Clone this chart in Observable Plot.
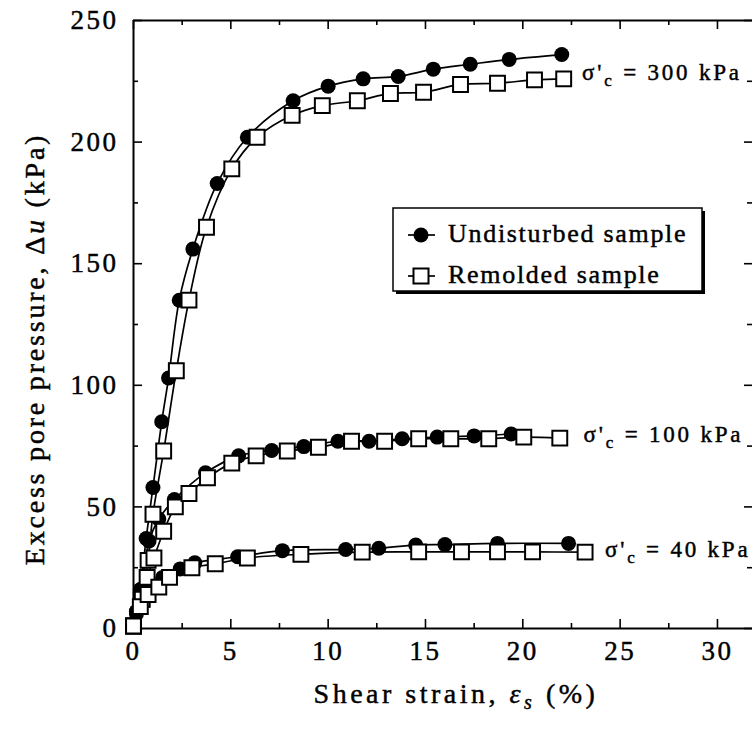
<!DOCTYPE html>
<html>
<head>
<meta charset="utf-8">
<script src="https://cdn.jsdelivr.net/npm/d3@7"></script>
<script src="https://cdn.jsdelivr.net/npm/@observablehq/plot@0.6"></script>
<style>
  body { margin: 0; background: #fff; }
  svg { display: block; }
  #chart svg text, #chart svg tspan { font-family: "Liberation Serif", "Times New Roman", serif !important; }
</style>
</head>
<body>
<div id="chart"></div>
<script>
// Excess pore pressure vs. shear strain, undisturbed vs. remolded samples
// at three consolidation pressures.

// σ'c = 300 kPa
const undisturbed300Strain = [0.15, 0.35, 0.65, 1.0, 1.45, 1.8, 2.35, 3.05, 4.3, 5.85, 8.2, 10.0, 11.8, 13.6, 15.4, 17.3, 19.3, 22.0];
const undisturbed300Du     = [7, 16, 37, 58, 85, 103, 135, 156, 183, 202, 217, 223, 226, 227, 230, 232, 234, 236];
const remolded300Strain    = [0, 0.4, 0.75, 1.0, 1.55, 2.2, 2.85, 3.75, 5.05, 6.35, 8.15, 9.7, 11.5, 13.2, 14.9, 16.8, 18.7, 20.6, 22.1];
const remolded300Du        = [1, 12, 28, 47, 73, 106, 135, 165, 189, 202, 211, 215, 217, 220, 220.5, 223.7, 224.2, 225.6, 226];

// σ'c = 100 kPa
const undisturbed100Strain = [0.15, 0.4, 0.8, 1.3, 2.1, 3.7, 5.4, 7.1, 8.75, 10.5, 12.1, 13.8, 15.6, 17.5, 19.4];
const undisturbed100Du     = [7, 16, 36, 45, 53, 64, 71, 73.2, 74.8, 77, 77, 78, 78.7, 79.2, 80];
const remolded100Strain    = [0, 0.45, 0.7, 1.05, 1.55, 2.15, 2.85, 3.8, 5.05, 6.3, 7.9, 9.5, 11.2, 12.9, 14.65, 16.3, 18.25, 20.05, 21.9];
const remolded100Du        = [1, 12, 21, 29, 40, 50, 55.5, 62, 68, 71, 73, 74.5, 77, 77, 78, 78, 78, 78.7, 78.3];

// σ'c = 40 kPa
const undisturbed40Strain  = [0.15, 0.4, 0.9, 1.5, 2.4, 3.15, 5.35, 7.65, 10.9, 12.6, 14.5, 16.0, 18.7, 22.35];
const undisturbed40Du      = [6, 14, 18, 21, 24.5, 27, 29.5, 32, 32.5, 33, 34.3, 34.5, 35, 35];
const remolded40Strain     = [0, 0.35, 0.75, 1.3, 1.85, 3.0, 4.2, 5.85, 8.6, 11.75, 14.65, 16.85, 18.7, 20.5, 23.2];
const remolded40Du         = [1, 9, 14, 17, 21, 25, 26.6, 29, 30.5, 31.4, 31.5, 31.5, 31.5, 31.5, 31.4];

// Axis ticks
const xMajorTicks = [0, 5, 10, 15, 20, 25, 30];
const xMinorTicks = [2.5, 7.5, 12.5, 17.5, 22.5, 27.5];
const yMajorTicks = [0, 50, 100, 150, 200, 250];
const yMinorTicks = [25, 75, 125, 175, 225];

// Curve labels (pressure, anchor strain and Δu of the label)
const curveLabelPressures = ["300", "100", "40"];
const curveLabelStrain    = [23.07, 23.15, 24.25];
const curveLabelDu        = [228.5, 79.7, 32.5];

const legendLabels = ["Undisturbed sample", "Remolded sample"];

const series = [
  {kind: "undisturbed", p: "300", xs: undisturbed300Strain, ys: undisturbed300Du},
  {kind: "remolded",    p: "300", xs: remolded300Strain,    ys: remolded300Du},
  {kind: "undisturbed", p: "100", xs: undisturbed100Strain, ys: undisturbed100Du},
  {kind: "remolded",    p: "100", xs: remolded100Strain,    ys: remolded100Du},
  {kind: "undisturbed", p: "40",  xs: undisturbed40Strain,  ys: undisturbed40Du},
  {kind: "remolded",    p: "40",  xs: remolded40Strain,     ys: remolded40Du}
];
const rows = series.flatMap(s => s.xs.map((x, i) => ({x, y: s.ys[i], kind: s.kind, key: s.kind + s.p})));

const W = 752, H = 738;
const ML = 133, MT = 20, MR = 0, MB = 110;
const plotW = W - ML - MR, plotH = H - MT - MB;
const serif = "Liberation Serif, Times New Roman, serif";
const ink = 0.45; // slight stroke to give the text its printed weight

const plot = Plot.plot({
  width: W,
  height: H,
  marginLeft: ML,
  marginTop: MT,
  marginRight: MR,
  marginBottom: MB,
  style: {fontFamily: serif, background: "#fff", color: "#000", overflow: "visible"},
  x: {domain: [0, 31.8], axis: null},
  y: {domain: [0, 250], axis: null},
  marks: [
    // tick labels
    Plot.axisX(xMajorTicks, {anchor: "bottom", tickSize: 0, tickPadding: 12, fontSize: 27, tickFormat: d => String(d), label: null}),
    Plot.axisY(yMajorTicks, {anchor: "left", tickSize: 0, tickPadding: 15, fontSize: 27, tickFormat: d => String(d), label: null}),
    // inward ticks on all sides
    Plot.tickX(xMajorTicks, {insetTop: plotH - 9, stroke: "#000", strokeWidth: 1.6}),
    Plot.tickX(xMinorTicks, {insetTop: plotH - 5, stroke: "#000", strokeWidth: 1.6}),
    Plot.tickX(xMajorTicks, {insetBottom: plotH - 9, stroke: "#000", strokeWidth: 1.6}),
    Plot.tickX(xMinorTicks, {insetBottom: plotH - 5, stroke: "#000", strokeWidth: 1.6}),
    Plot.tickY(yMajorTicks, {insetRight: plotW - 9, stroke: "#000", strokeWidth: 1.6}),
    Plot.tickY(yMinorTicks, {insetRight: plotW - 5, stroke: "#000", strokeWidth: 1.6}),
    Plot.tickY(yMajorTicks, {insetLeft: plotW - 8, stroke: "#000", strokeWidth: 1.6}),
    Plot.tickY(yMinorTicks, {insetLeft: plotW - 5, stroke: "#000", strokeWidth: 1.6}),
    // frame
    Plot.ruleX([0], {stroke: "#000", strokeWidth: 2}),
    Plot.ruleY([0], {stroke: "#000", strokeWidth: 2}),
    Plot.ruleY([250], {stroke: "#000", strokeWidth: 2}),
    // smoothed curves
    Plot.line(rows, {x: "x", y: "y", z: "key", curve: "catmull-rom", stroke: "#000", strokeWidth: 1.7}),
    // markers
    Plot.dot(rows.filter(d => d.kind === "undisturbed"), {x: "x", y: "y", r: 7.5, fill: "#000", stroke: "none"}),
    Plot.dot(rows.filter(d => d.kind === "remolded"), {x: "x", y: "y", symbol: "square", r: 8.4, fill: "#fff", stroke: "#000", strokeWidth: 2})
  ]
});

document.getElementById("chart").appendChild(plot);

const svg = d3.select(plot);
const xs = plot.scale("x"), ys = plot.scale("y");
svg.selectAll("text").style("letter-spacing", "2.5px").attr("stroke", "#000").attr("stroke-width", ink);

// curve labels  σ'c = … kPa
curveLabelPressures.forEach((p, i) => {
  const t = svg.append("text")
    .attr("x", xs.apply(curveLabelStrain[i]))
    .attr("y", ys.apply(curveLabelDu[i]))
    .attr("dy", "0.35em")
    .attr("text-anchor", "start")
    .attr("font-size", 23)
    .attr("fill", "#000").attr("stroke", "#000").attr("stroke-width", ink)
    .style("letter-spacing", "2.8px");
  t.append("tspan").text("σ'");
  t.append("tspan").attr("font-size", 17).attr("dy", 6).text("c");
  t.append("tspan").attr("dy", -6).text(` = ${p} kPa`);
});

// legend
const lg = svg.append("g")
  .attr("font-size", 26).attr("text-anchor", "start")
  .style("letter-spacing", "1.7px");
const bx = 393, by = 208, bw = 309, bh = 83;
lg.append("rect").attr("x", bx + 3).attr("y", by + 3).attr("width", bw).attr("height", bh).attr("fill", "#000");
lg.append("rect").attr("x", bx).attr("y", by).attr("width", bw).attr("height", bh).attr("fill", "#fff").attr("stroke", "#000").attr("stroke-width", 1.5);
legendLabels.forEach((lab, i) => {
  const cy = by + 27 + i * 41;
  lg.append("line").attr("x1", 408).attr("x2", 435).attr("y1", cy).attr("y2", cy).attr("stroke", "#000").attr("stroke-width", 1.7);
  if (i === 0) lg.append("circle").attr("cx", 421).attr("cy", cy).attr("r", 7.5).attr("fill", "#000");
  else lg.append("rect").attr("x", 413.5).attr("y", cy - 7.5).attr("width", 15).attr("height", 15).attr("fill", "#fff").attr("stroke", "#000").attr("stroke-width", 2);
  lg.append("text").attr("x", 448).attr("y", cy).attr("dy", "0.27em")
    .attr("stroke", "#000").attr("stroke-width", ink).text(lab);
});

// axis titles
const xt = svg.append("text")
  .attr("x", 456).attr("y", 703)
  .attr("text-anchor", "middle")
  .attr("font-size", 28)
  .attr("stroke", "#000").attr("stroke-width", ink)
  .style("letter-spacing", "3.5px");
xt.append("tspan").text("Shear strain, ");
xt.append("tspan").attr("font-style", "italic").text("ε");
xt.append("tspan").attr("font-style", "italic").attr("font-size", 20).attr("dy", 6).text("s");
xt.append("tspan").attr("dy", -6).text(" (%)");

const yt = svg.append("text")
  .attr("transform", `translate(44, 349) rotate(-90)`)
  .attr("text-anchor", "middle")
  .attr("font-size", 28)
  .attr("stroke", "#000").attr("stroke-width", ink)
  .style("letter-spacing", "2.8px");
yt.append("tspan").text("Excess pore pressure, Δ");
yt.append("tspan").attr("font-style", "italic").text("u");
yt.append("tspan").text(" (kPa)");
</script>
</body>
</html>
